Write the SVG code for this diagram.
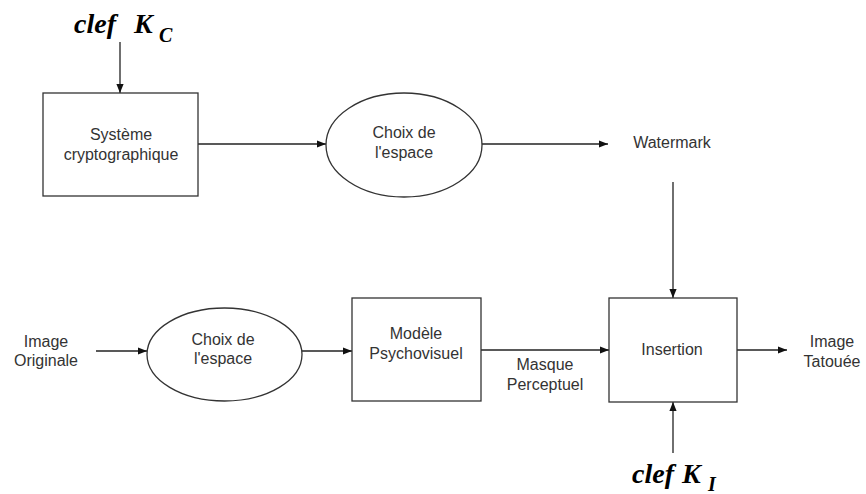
<svg xmlns="http://www.w3.org/2000/svg" width="866" height="494" viewBox="0 0 866 494">
<style>
.shape{fill:#fff;stroke:#333;stroke-width:1.3}
.lbl{font-family:"Liberation Sans",Arial,sans-serif;font-size:16px;fill:#333;text-anchor:middle}
.key{font-family:"Liberation Serif","Times New Roman",serif;font-weight:bold;font-style:italic;fill:#000}
.edge{stroke:#222;stroke-width:1.3;fill:none;marker-end:url(#arr)}
</style>
<defs>
<marker id="arr" viewBox="0 0 10 10" refX="10" refY="5" markerWidth="9" markerHeight="9" markerUnits="userSpaceOnUse" orient="auto">
<path d="M0,1 L10,5 L0,9 z" fill="#111"/>
</marker>
</defs>
<rect width="866" height="494" fill="#fff"/>
<g id="connectors">
<line class="edge" x1="120" y1="42" x2="120" y2="93"/>
<line class="edge" x1="198" y1="144" x2="326" y2="144"/>
<line class="edge" x1="481" y1="144" x2="608" y2="144"/>
<line class="edge" x1="673" y1="182" x2="673" y2="298"/>
<line class="edge" x1="96" y1="351" x2="147" y2="351"/>
<line class="edge" x1="302" y1="351" x2="352" y2="351"/>
<line class="edge" x1="481" y1="350" x2="609" y2="350"/>
<line class="edge" x1="737" y1="350" x2="787" y2="350"/>
<line class="edge" x1="673" y1="453" x2="673" y2="402"/>
</g>
<g id="clefKC">
<text class="key" x="74" y="33" font-size="28">clef <tspan x="134">K</tspan><tspan x="159" y="42" font-size="20">C</tspan></text>
</g>
<g id="crypto">
<rect class="shape" x="43" y="93" width="155" height="103"/>
<text class="lbl" x="121" y="140">Système</text>
<text class="lbl" x="121" y="160">cryptographique</text>
</g>
<g id="choix1">
<ellipse class="shape" cx="404" cy="145" rx="78" ry="52"/>
<text class="lbl" x="404" y="138">Choix de</text>
<text class="lbl" x="404" y="158">l'espace</text>
</g>
<g id="watermark">
<text class="lbl" x="672" y="148">Watermark</text>
</g>
<g id="imageOriginale">
<text class="lbl" x="46" y="347">Image</text>
<text class="lbl" x="46" y="366">Originale</text>
</g>
<g id="choix2">
<ellipse class="shape" cx="224.5" cy="354.5" rx="77.5" ry="46.5"/>
<text class="lbl" x="223" y="345">Choix de</text>
<text class="lbl" x="223" y="364">l'espace</text>
</g>
<g id="modele">
<rect class="shape" x="352" y="298" width="129" height="103"/>
<text class="lbl" x="416" y="339">Modèle</text>
<text class="lbl" x="416" y="359">Psychovisuel</text>
</g>
<g id="masque">
<text class="lbl" x="545" y="370">Masque</text>
<text class="lbl" x="545" y="390">Perceptuel</text>
</g>
<g id="insertion">
<rect class="shape" x="609" y="298" width="128" height="104"/>
<text class="lbl" x="672" y="355">Insertion</text>
</g>
<g id="imageTatouee">
<text class="lbl" x="832" y="347">Image</text>
<text class="lbl" x="832" y="367">Tatouée</text>
</g>
<g id="clefKI">
<text class="key" x="632" y="483" font-size="28">clef <tspan x="682">K</tspan><tspan x="708" y="491" font-size="20">I</tspan></text>
</g>
</svg>
